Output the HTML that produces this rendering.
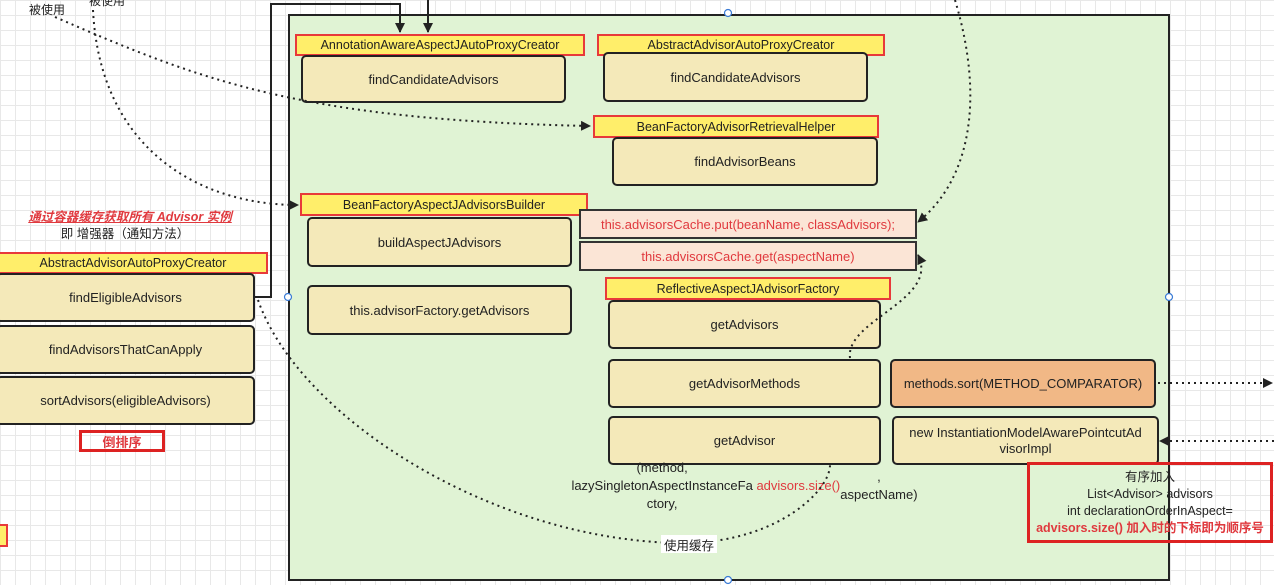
<!DOCTYPE html>
<html><head><meta charset="utf-8"><style>
*{margin:0;padding:0;box-sizing:border-box}
body{width:1274px;height:585px;overflow:hidden;position:relative;font-family:"Liberation Sans","Noto Sans CJK SC",sans-serif;font-size:13px;color:#222;
background-color:#fff;background-image:linear-gradient(#e8e8e8 1px,transparent 1px),linear-gradient(90deg,#e8e8e8 1px,transparent 1px);background-size:15px 15px}
.a{position:absolute;display:flex;align-items:center;justify-content:center;text-align:center}
.y{background:#ffee6a;border:2px solid #e8393a;font-size:12.5px}
.t{background:#f4e9b9;border:2px solid #222;border-radius:5px}
.p{background:#fbe5d6;border:2px solid #333;color:#e0393e;font-size:13px}
</style></head><body>
<div class="a" style="left:288px;top:14px;width:882px;height:567px;background:#e0f3d4;border:2px solid #222"></div>

<div class="a y" style="left:295px;top:34px;width:290px;height:22px">AnnotationAwareAspectJAutoProxyCreator</div>
<div class="a t" style="left:301px;top:55px;width:265px;height:48px">findCandidateAdvisors</div>
<div class="a y" style="left:597px;top:34px;width:288px;height:22px">AbstractAdvisorAutoProxyCreator</div>
<div class="a t" style="left:603px;top:52px;width:265px;height:50px">findCandidateAdvisors</div>
<div class="a y" style="left:593px;top:115px;width:286px;height:23px">BeanFactoryAdvisorRetrievalHelper</div>
<div class="a t" style="left:612px;top:137px;width:266px;height:49px">findAdvisorBeans</div>
<div class="a y" style="left:300px;top:193px;width:288px;height:23px">BeanFactoryAspectJAdvisorsBuilder</div>
<div class="a t" style="left:307px;top:217px;width:265px;height:50px">buildAspectJAdvisors</div>
<div class="a t" style="left:307px;top:285px;width:265px;height:50px">this.advisorFactory.getAdvisors</div>
<div class="a p" style="left:579px;top:209px;width:338px;height:30px">this.advisorsCache.put(beanName, classAdvisors);</div>
<div class="a p" style="left:579px;top:241px;width:338px;height:30px">this.advisorsCache.get(aspectName)</div>
<div class="a y" style="left:605px;top:277px;width:286px;height:23px">ReflectiveAspectJAdvisorFactory</div>
<div class="a t" style="left:608px;top:300px;width:273px;height:49px">getAdvisors</div>
<div class="a t" style="left:608px;top:359px;width:273px;height:49px">getAdvisorMethods</div>
<div class="a t" style="left:608px;top:416px;width:273px;height:49px">getAdvisor</div>
<div class="a t" style="left:890px;top:359px;width:266px;height:49px;background:#f1b886">methods.sort(METHOD_COMPARATOR)</div>
<div class="a t" style="left:892px;top:416px;width:267px;height:49px;line-height:16px">new InstantiationModelAwarePointcutAd<br>visorImpl</div>
<div class="a" style="left:608px;top:468px;width:273px;height:36px;line-height:18px">(method, lazySingletonAspectInstanceFa<br>ctory, <span style="color:#e0393e">&nbsp;advisors.size()</span>, aspectName)</div>

<div class="a y" style="left:-2px;top:252px;width:270px;height:22px">AbstractAdvisorAutoProxyCreator</div>
<div class="a t" style="left:-4px;top:273px;width:259px;height:49px">findEligibleAdvisors</div>
<div class="a t" style="left:-4px;top:325px;width:259px;height:49px">findAdvisorsThatCanApply</div>
<div class="a t" style="left:-4px;top:376px;width:259px;height:49px">sortAdvisors(eligibleAdvisors)</div>
<div class="a" style="left:79px;top:430px;width:86px;height:22px;border:3px solid #d22;color:#e0393e;font-weight:bold">倒排序</div>
<div class="a y" style="left:-2px;top:524px;width:10px;height:23px"></div>
<div class="a" style="left:0px;top:206px;width:260px;height:18px;color:#e0393e;font-style:italic;font-weight:bold;text-decoration:underline;font-size:12.5px">通过容器缓存获取所有 Advisor 实例</div>
<div class="a" style="left:0px;top:223px;width:250px;height:18px;font-size:12.5px">即 增强器（通知方法）</div>
<div class="a" style="left:22px;top:0px;width:50px;height:18px;font-size:12px">被使用</div>
<div class="a" style="left:82px;top:-8px;width:50px;height:16px;font-size:12px">被使用</div>

<svg width="1274" height="585" style="position:absolute;left:0;top:0" xmlns="http://www.w3.org/2000/svg">
<defs><marker id="m" markerWidth="10" markerHeight="10" refX="9" refY="5" orient="auto" markerUnits="userSpaceOnUse"><path d="M0,0 L10,5 L0,10 z" fill="#222"/></marker></defs>
<g fill="none" stroke="#222" stroke-width="2">
<path d="M254,297 H271 V4 H400 V32" marker-end="url(#m)"/>
<path d="M428,0 V32" marker-end="url(#m)"/>
</g>
<g fill="none" stroke="#222" stroke-width="2" stroke-dasharray="2,4">
<path d="M55,17 C200,80 300,120 590,126" marker-end="url(#m)"/>
<path d="M93,10 C100,150 200,205 298,205" marker-end="url(#m)"/>
<path d="M955,0 C985,100 970,180 918,222" marker-end="url(#m)"/>
<path d="M850,358 C845,320 940,300 918,255" marker-end="url(#m)"/>
<path d="M258,300 C300,420 500,545 690,543 C780,540 830,490 830,465"/>
<path d="M1158,383 H1272" marker-end="url(#m)"/>
<path d="M1274,441 H1160" marker-end="url(#m)"/>
</g>
<g fill="#fff" stroke="#3a7bd5" stroke-width="1.2">
<circle cx="728" cy="13" r="3.5"/><circle cx="288" cy="297" r="3.5"/><circle cx="1169" cy="297" r="3.5"/><circle cx="728" cy="580" r="3.5"/>
</g>
</svg>
<div class="a" style="left:661px;top:535px;width:56px;height:18px;background:#fff;font-size:12.5px">使用缓存</div>
<div class="a" style="left:1027px;top:462px;width:246px;height:81px;border:3px solid #d22;flex-direction:column;line-height:17px;font-size:12.5px">
<div>有序加入</div><div>List&lt;Advisor&gt; advisors</div><div>int declarationOrderInAspect=</div><div style="color:#e0393e;font-weight:bold;white-space:nowrap">advisors.size() 加入时的下标即为顺序号</div></div>
</body></html>
